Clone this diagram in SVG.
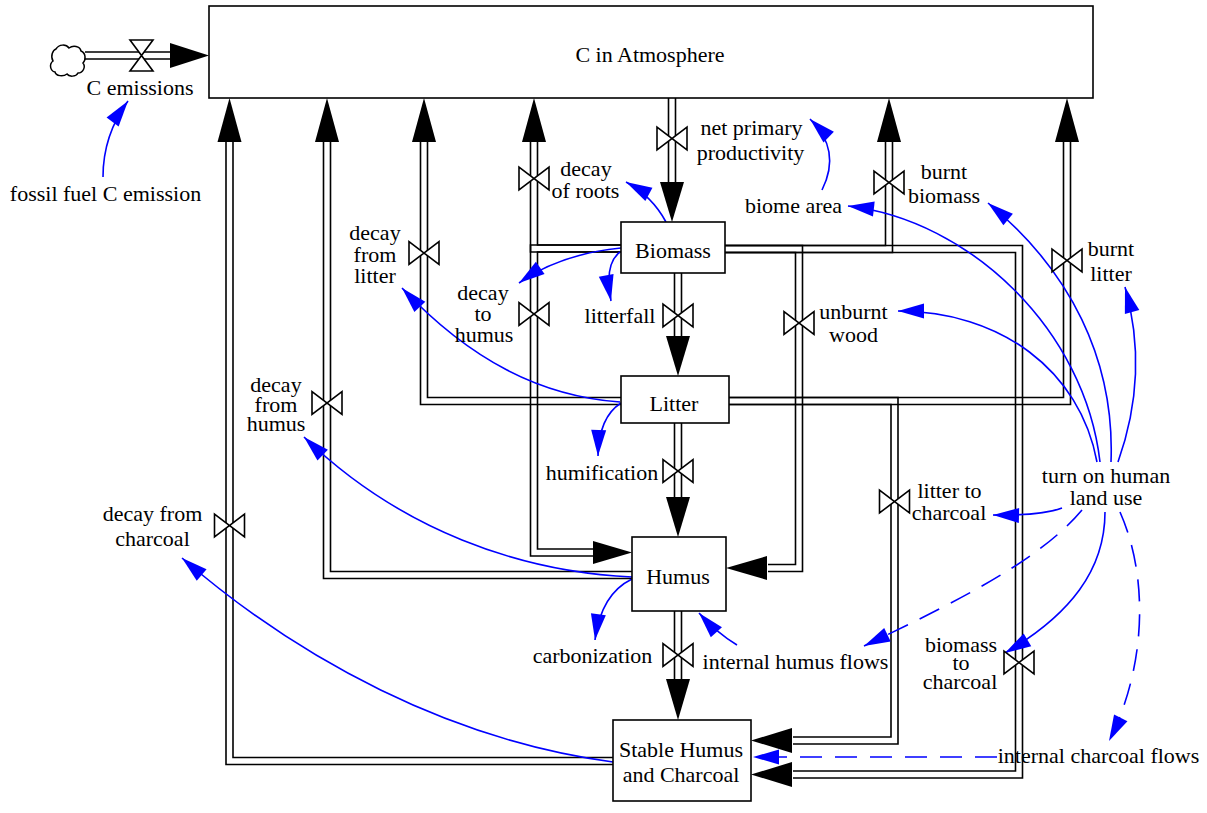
<svg xmlns="http://www.w3.org/2000/svg" width="1207" height="813" viewBox="0 0 1207 813">
<style>
text{font-family:"Liberation Serif","Times New Roman",serif;font-size:22px;fill:#000;text-anchor:middle}
.p{fill:none;stroke:#000;stroke-width:1.6}
.stock{fill:#fff;stroke:#000;stroke-width:1.6}
.v{fill:#fff;stroke:#000;stroke-width:1.6;stroke-linejoin:miter}
.ah{fill:#000}
.inf{fill:none;stroke:#00f;stroke-width:1.6;marker-end:url(#ba)}
.d{stroke-dasharray:22 13}
</style>
<defs>
<marker id="ba" markerUnits="userSpaceOnUse" markerWidth="28" markerHeight="16" refX="26" refY="7.5" orient="auto" overflow="visible">
<path d="M0,0 L26,7.5 L0,15 Z" fill="#00f"/>
</marker>
<path id="vv" class="v" d="M-15,-11.5 V11.5 L15,-11.5 V11.5 Z"/>
<path id="vh" class="v" d="M-11.5,-15.5 H11.5 L-11.5,15.5 H11.5 Z"/>
</defs>
<rect width="1207" height="813" fill="#fff"/>

<g id="connectors">
<g id="pipes">
<path class="p" d="M85,52 H172 M85,59 H172"/>
<path class="p" d="M668.5,98 V183 M675.5,98 V183"/>
<path class="p" d="M674.5,273 V337 M681.5,273 V337"/>
<path class="p" d="M674.5,423 V498 M681.5,423 V498"/>
<path class="p" d="M674.5,611 V680 M681.5,611 V680"/>
<path class="p" d="M621,245 H537.5 V141 M621,252 H530.5 V141"/>
<path class="p" d="M621,252 H537.5 V549 H594 M621,245 H530.5 V556 H594"/>
<path class="p" d="M621,397.5 H427.5 V141 M621,404.5 H420.5 V141"/>
<path class="p" d="M632,571.5 H330.5 V141 M632,578.5 H323.5 V141"/>
<path class="p" d="M613,757.5 H233 V141 M613,764.5 H226 V141"/>
<path class="p" d="M725,245.5 H885.5 V141 M725,252.5 H892.5 V141"/>
<path class="p" d="M725,252.5 H795.5 V564.5 H768 M725,245.5 H802.5 V571.5 H768"/>
<path class="p" d="M725,252.5 H1015.5 V771 H793 M725,245.5 H1022.5 V778 H793"/>
<path class="p" d="M729,404.5 H891 V737 H793 M729,397.5 H898 V744 H793"/>
<path class="p" d="M729,397.5 H1063.5 V141 M729,404.5 H1070.5 V141"/>
</g>
<g id="pipe-arrows">
<polygon class="ah" points="170,43 209,55.5 170,68"/>
<polygon class="ah" points="660,182 684,182 672,222"/>
<polygon class="ah" points="666,336 690,336 678,376"/>
<polygon class="ah" points="666,497 690,497 678,537"/>
<polygon class="ah" points="666,679 690,679 678,720"/>
<polygon class="ah" points="593,541 632,552.5 593,564"/>
<polygon class="ah" points="767,556 726,568 767,580"/>
<polygon class="ah" points="792,728 751,740.5 792,753"/>
<polygon class="ah" points="792,762 751,774.5 792,787"/>
<polygon class="ah" points="217.5,142 241.5,142 229.5,98"/>
<polygon class="ah" points="315,142 339,142 327,98"/>
<polygon class="ah" points="412,142 436,142 424,98"/>
<polygon class="ah" points="522,142 546,142 534,98"/>
<polygon class="ah" points="877,142 901,142 889,98"/>
<polygon class="ah" points="1055,142 1079,142 1067,98"/>
</g>
<g id="links">
<path class="inf" d="M103,177 Q103,135 128,101"/>
<path class="inf" d="M822,190 Q842,150 810,119"/>
<path class="inf" d="M666,222 Q652,196 626,182"/>
<path class="inf" d="M621,248 Q560,254 519,283"/>
<path class="inf" d="M620,252 Q604,264 611,301"/>
<path class="inf" d="M620,402 C540,396 470,360 402,288"/>
<path class="inf" d="M621,403 Q599,417 598,456"/>
<path class="inf" d="M632,577 C520,572 400,530 304,437"/>
<path class="inf" d="M632,579 Q601,594 595,640"/>
<path class="inf" d="M737,645 Q717,633 699,613"/>
<path class="inf" d="M613,762 C450,740 300,660 182,558"/>
<path class="inf" d="M1100,462 C1085,330 970,220 848,206"/>
<path class="inf" d="M1097,462 C1080,370 1000,311 898,311"/>
<path class="inf" d="M1111,462 C1115,360 1070,270 988,203"/>
<path class="inf" d="M1118,462 C1140,400 1140,340 1125,287"/>
<path class="inf" d="M1062,508 Q1040,516 993,515"/>
<path class="inf d" d="M1082,510 C1040,560 960,600 864,646"/>
<path class="inf" d="M1105,512 C1105,570 1070,615 1005,653"/>
<path class="inf d" d="M1120,512 C1150,580 1145,670 1109,741"/>
<path class="inf d" d="M997,757 L753,757"/>
</g>
</g>

<g id="cloud">
<path fill="#fff" stroke="#000" stroke-width="1.5" d="M56,49 c3,-5 10,-5 13,-1 c4,-3 11,-2 12,3 c5,2 5,9 2,12 c3,4 0,10 -5,10 c-2,4 -9,4 -11,1 c-4,3 -11,2 -12,-2 c-5,-1 -6,-8 -2,-11 c-3,-5 0,-11 3,-12 z"/>
</g>

<g id="atmosphere"><rect class="stock" x="209" y="6" width="884" height="92"/><text x="650" y="62">C in Atmosphere</text></g>
<g id="biomass"><rect class="stock" x="621" y="222" width="104" height="51"/><text x="673" y="258">Biomass</text></g>
<g id="litter"><rect class="stock" x="621" y="376" width="108" height="47"/><text x="674" y="411">Litter</text></g>
<g id="humus"><rect class="stock" x="632" y="537" width="94" height="74"/><text x="678" y="584">Humus</text></g>
<g id="stable-humus"><rect class="stock" x="613" y="720" width="138" height="81"/><text x="681" y="757">Stable Humus<tspan x="681" dy="25">and Charcoal</tspan></text></g>

<g id="c-emissions"><use href="#vh" x="141.5" y="55.5"/><text x="140" y="95">C emissions</text></g>
<g id="npp"><use href="#vv" x="672" y="138.5"/><text x="751.5" y="135">net primary<tspan x="750.5" dy="25">productivity</tspan></text></g>
<g id="decay-of-roots"><use href="#vv" x="534" y="178.5"/><text x="586" y="176">decay<tspan x="585.5" dy="22">of roots</tspan></text></g>
<g id="decay-to-humus"><use href="#vv" x="534" y="314"/><text x="483" y="300">decay<tspan x="483" dy="21">to</tspan><tspan x="484" dy="21">humus</tspan></text></g>
<g id="litterfall"><use href="#vv" x="678" y="315.5"/><text x="620" y="323">litterfall</text></g>
<g id="decay-from-litter"><use href="#vv" x="424" y="253"/><text x="375" y="240">decay<tspan x="375" dy="22">from</tspan><tspan x="375" dy="21">litter</tspan></text></g>
<g id="decay-from-humus"><use href="#vv" x="327" y="403"/><text x="276" y="392">decay<tspan x="276" dy="19.5">from</tspan><tspan x="276" dy="19.5">humus</tspan></text></g>
<g id="decay-from-charcoal"><use href="#vv" x="229.5" y="525.5"/><text x="152.5" y="521">decay from<tspan x="152.5" dy="25">charcoal</tspan></text></g>
<g id="humification"><use href="#vv" x="678" y="471"/><text x="602" y="480">humification</text></g>
<g id="carbonization"><use href="#vv" x="678" y="655"/><text x="592.5" y="663">carbonization</text></g>
<g id="burnt-biomass"><use href="#vv" x="889" y="182.5"/><text x="944" y="179">burnt<tspan x="944" dy="24">biomass</tspan></text></g>
<g id="burnt-litter"><use href="#vv" x="1067" y="260.5"/><text x="1111" y="256">burnt<tspan x="1111" dy="25">litter</tspan></text></g>
<g id="unburnt-wood"><use href="#vv" x="799" y="323"/><text x="853.5" y="319">unburnt<tspan x="853.5" dy="23">wood</tspan></text></g>
<g id="litter-to-charcoal"><use href="#vv" x="894.5" y="501.5"/><text x="949.5" y="498">litter to<tspan x="949" dy="22">charcoal</tspan></text></g>
<g id="biomass-to-charcoal"><use href="#vv" x="1019" y="662.5"/><text x="961" y="652">biomass<tspan x="961" dy="18">to</tspan><tspan x="960" dy="19">charcoal</tspan></text></g>

<g id="fossil-fuel"><text x="105.5" y="201">fossil fuel C emission</text></g>
<g id="biome-area"><text x="793.5" y="213">biome area</text></g>
<g id="land-use"><text x="1106" y="483">turn on human<tspan x="1106" dy="22">land use</tspan></text></g>
<g id="internal-humus-flows"><text x="795.5" y="669">internal humus flows</text></g>
<g id="internal-charcoal-flows"><text x="1098.5" y="763">internal charcoal flows</text></g>
</svg>
